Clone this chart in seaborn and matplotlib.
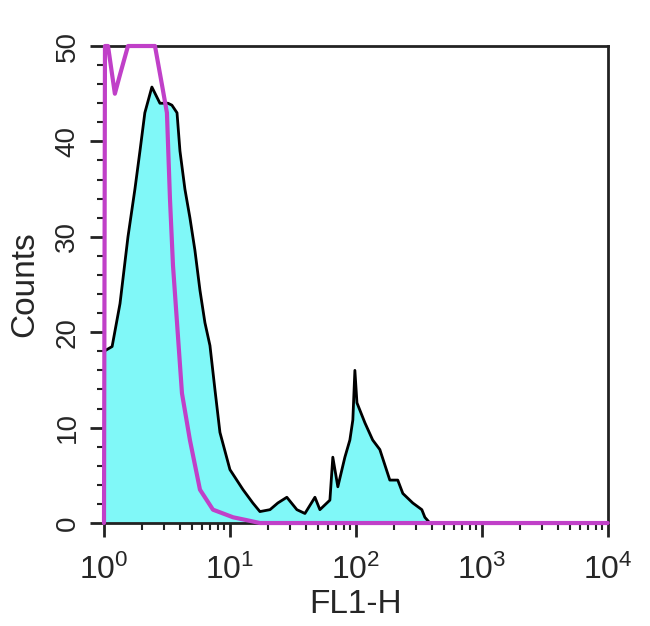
import numpy as np
import pandas as pd
import seaborn as sns
import matplotlib
matplotlib.use("Agg")
import matplotlib.pyplot as plt
from matplotlib.ticker import LogLocator, MultipleLocator

# stained sample (filled cyan, black outline)
stained_fl1 = [1.00, 1.16, 1.34, 1.55, 1.76, 1.93, 2.11, 2.40, 2.78, 3.22,
               3.46, 3.80, 4.01, 4.39, 4.81, 5.27, 5.78, 6.33, 6.94, 7.60,
               8.33, 10.0, 12.7, 15.2, 17.3, 20.8, 24.0, 28.3, 34.0, 39.4,
               47.3, 51.8, 62.2, 65.6, 71.9, 81.8, 89.6, 94.6, 98.2, 102,
               118, 136, 155, 186, 215, 236, 283, 334, 353, 387, 10000]
stained_counts = [18, 18.5, 23, 30, 35, 39, 43, 45.7, 44, 44,
                  43.8, 43, 39, 35, 32, 28.6, 24.4, 21, 18.6, 14,
                  9.5, 5.6, 3.5, 2.1, 1.2, 1.4, 2.1, 2.7, 1.4, 1.0,
                  2.7, 1.4, 2.4, 6.9, 3.8, 6.9, 8.7, 10.8, 16, 12.6,
                  10.5, 8.7, 7.7, 4.5, 4.5, 3.1, 2.1, 1.4, 0.6, 0, 0]

# isotype control (magenta line), off-scale counts sit on the top edge
control_fl1 = [1.00, 1.018, 1.076, 1.16, 1.22, 1.34, 1.55, 1.93, 2.32, 2.54,
               2.88, 3.16, 3.34, 3.53, 3.80, 4.16, 4.81, 5.78, 7.33, 10.6,
               13.6, 17.3, 10000]
control_counts = [0, 50, 50, 47, 45, 47, 50, 50, 50, 50,
                  46, 43, 34, 27, 21, 13.6, 8.7, 3.5, 1.4, 0.6,
                  0.3, 0, 0]

stained = pd.DataFrame({"FL1-H": stained_fl1, "Counts": stained_counts})
control = pd.DataFrame({"FL1-H": control_fl1, "Counts": control_counts})

sns.set_style("ticks")
plt.rcParams["font.family"] = ["Liberation Sans", "DejaVu Sans"]

fig = plt.figure(figsize=(6.5, 6.26), dpi=100)
ax = fig.add_axes([0.16, 0.1645, 0.775, 0.762])

ax.fill_between(stained["FL1-H"], stained["Counts"], color="#80f8f8", lw=0)
sns.lineplot(data=stained, x="FL1-H", y="Counts", ax=ax, color="black",
             lw=2, sort=False, estimator=None)
sns.lineplot(data=control, x="FL1-H", y="Counts", ax=ax, color="#c040c8",
             lw=3, sort=False, estimator=None, clip_on=False)

ax.set_xscale("log")
ax.set_xlim(1, 10000)
ax.set_ylim(0, 50)
ax.yaxis.set_major_locator(MultipleLocator(10))
ax.yaxis.set_minor_locator(MultipleLocator(2))
ax.xaxis.set_major_locator(LogLocator(base=10))
ax.xaxis.set_minor_locator(LogLocator(base=10, subs=np.arange(2, 10)))

for s in ax.spines.values():
    s.set_linewidth(2)
    s.set_color("#222222")
    s.set_zorder(1)

ax.tick_params(which="major", length=10, width=2, color="#222222")
ax.tick_params(which="minor", length=5, width=1.5, color="#222222")
ax.tick_params(axis="x", labelsize=23, pad=13)
ax.tick_params(axis="y", labelsize=20, labelrotation=90, pad=7)
for lab in ax.get_yticklabels():
    lab.set_va("center")

ax.set_xlabel("FL1-H", fontsize=24, labelpad=2)
ax.set_ylabel("Counts", fontsize=24, labelpad=10)

fig.savefig("out.png", dpi=100)
